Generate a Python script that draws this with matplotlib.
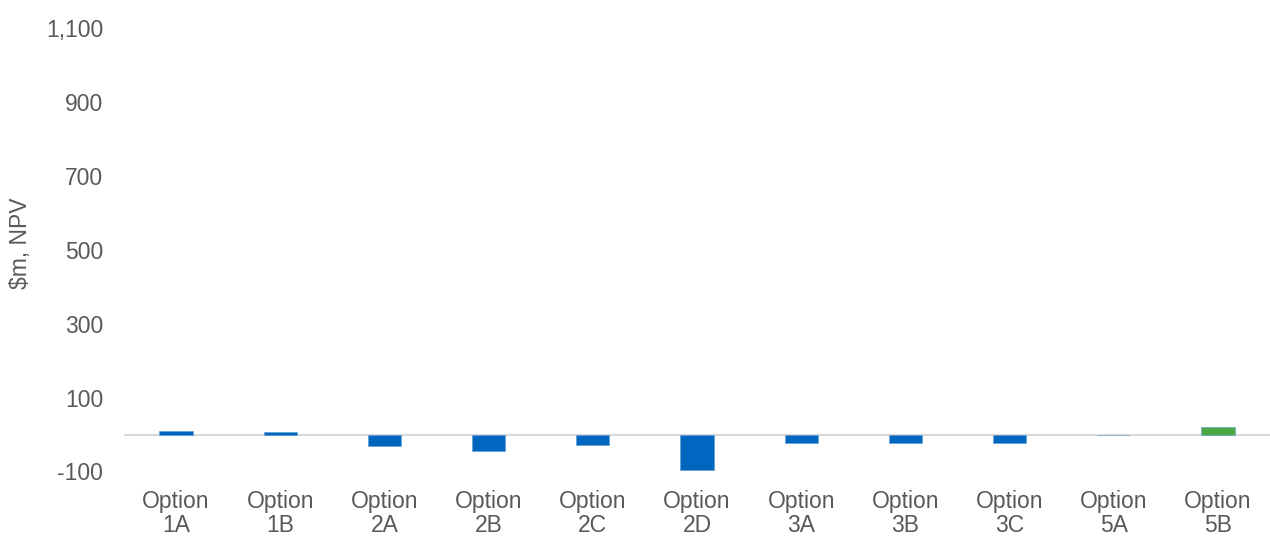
import matplotlib
matplotlib.use('Agg')
import matplotlib.pyplot as plt
import numpy as np

# values ($m, NPV)
options = ['Option\n1A', 'Option\n1B', 'Option\n2A', 'Option\n2B', 'Option\n2C', 'Option\n2D',
           'Option\n3A', 'Option\n3B', 'Option\n3C', 'Option\n5A', 'Option\n5B']
npv = [9, 8, -30, -44, -29, -95, -22, -22, -22, 0, 20]
bar_colors = ['#0066BF'] * 10 + ['#4AA847']
yticks = [-100, 100, 300, 500, 700, 900, 1100]

plt.rcParams['font.family'] = ['Liberation Sans', 'DejaVu Sans']
grey = '#595959'
fs = 16.5

fig = plt.figure(figsize=(12.7, 5.37), dpi=100)
ax = fig.add_axes([124 / 1270, 1 - 471.5 / 537, 1 - 124 / 1270, (471.5 - 28) / 537])

x = np.arange(len(options))
ax.bar(x, npv, width=0.32, color=bar_colors, edgecolor='#5B9BD5', linewidth=0.4, zorder=3)
ax.axhline(0, color='#D9D9D9', linewidth=1.5, zorder=2)

ax.set_xlim(-0.5, len(options) - 0.5)
ax.set_ylim(-100, 1100)
ax.set_yticks(yticks)
ax.set_yticklabels([f'{v:,}' for v in yticks])
ax.set_xticks(x)
ax.set_xticklabels(options, linespacing=1.1)

ax.tick_params(axis='y', length=0, pad=15, labelsize=fs, labelcolor=grey)
ax.tick_params(axis='x', length=0, pad=13, labelsize=fs, labelcolor=grey)
for s in ax.spines.values():
    s.set_visible(False)

fig.text(21 / 1270, 1 - 243 / 537, '$m, NPV', rotation=90, ha='center', va='center',
         fontsize=fs, color=grey)

plt.savefig('out.png', dpi=100)
